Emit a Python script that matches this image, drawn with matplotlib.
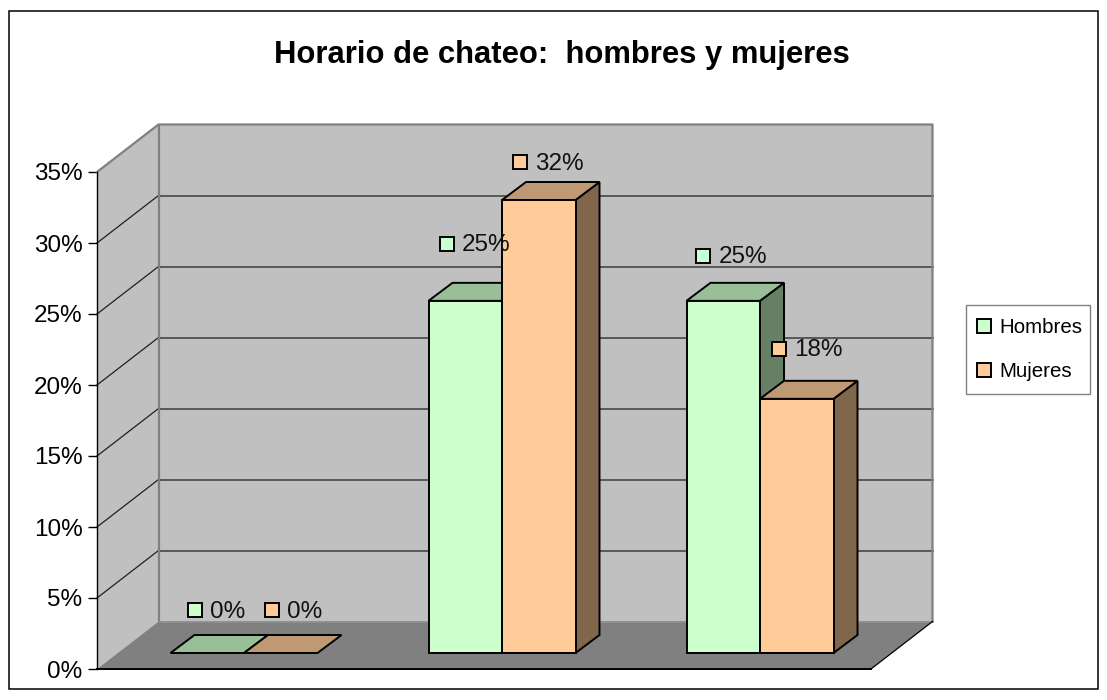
import matplotlib
matplotlib.use("Agg")
import matplotlib.pyplot as plt
from matplotlib.lines import Line2D
from matplotlib.patches import Polygon, Rectangle

plt.rcParams["font.family"] = ["Liberation Sans", "DejaVu Sans"]

TITLE = "Horario de chateo:  hombres y mujeres"
SERIES_NAMES = ["Hombres", "Mujeres"]
HOMBRES = [0.0, 24.8, 24.8]
MUJERES = [0.0, 31.9, 17.9]
YTICKS = [0, 5, 10, 15, 20, 25, 30, 35]

# front, top, side faces of each series
FACE_COLORS = [("#CCFFCC", "#99BF99", "#668066"), ("#FFCC99", "#BF9973", "#80664D")]
WALL = "#C0C0C0"
FLOOR = "#808080"

WIDTH, HEIGHT = 1107, 700
LEFT, RIGHT, BOTTOM, TOP = 97, 871, 669, 172
PX_X = (RIGHT - LEFT) / 3.0
PX_Y = (BOTTOM - TOP) / 35.0
BAR_WIDTH = 73.5 / PX_X
DEPTH_X, DEPTH_Y = 61.5 / PX_X, 47.5 / PX_Y
BAR_DX, BAR_DY = 24 / PX_X, 18 / PX_Y
LIFT_X, LIFT_Y = 18 / PX_X, 16 / PX_Y

# label marker position relative to the top of each bar's front face, in pixels
LABEL_OFFSETS = [
    [(-12, 43), (-18.5, 57), (-20, 45)],
    [(-8.5, 43), (-18.5, 38), (-17.5, 50)],
]


def poly(ax, points, color, edge="black", lw=1.4, zorder=3):
    ax.add_patch(Polygon(points, closed=True, facecolor=color, edgecolor=edge,
                         linewidth=lw, joinstyle="miter", clip_on=False, zorder=zorder))


def draw_walls(ax):
    x0, x1 = -0.5, 2.5
    poly(ax, [(x0, 0), (x0 + DEPTH_X, DEPTH_Y), (x0 + DEPTH_X, 35 + DEPTH_Y), (x0, 35)], WALL, "none", zorder=1)
    poly(ax, [(x0 + DEPTH_X, DEPTH_Y), (x1 + DEPTH_X, DEPTH_Y), (x1 + DEPTH_X, 35 + DEPTH_Y), (x0 + DEPTH_X, 35 + DEPTH_Y)],
         WALL, "none", zorder=1)
    poly(ax, [(x0, 0), (x1, 0), (x1 + DEPTH_X, DEPTH_Y), (x0 + DEPTH_X, DEPTH_Y)], FLOOR, "none", zorder=1)

    for tick in YTICKS[1:-1]:
        ax.plot([x0, x0 + DEPTH_X], [tick, tick + DEPTH_Y], color="#202020", lw=0.9, clip_on=False, zorder=1.5)
        ax.plot([x0 + DEPTH_X, x1 + DEPTH_X], [tick + DEPTH_Y, tick + DEPTH_Y], color="#505050", lw=1.3,
                clip_on=False, zorder=1.5)

    # wall outline
    ax.plot([x0, x0 + DEPTH_X, x1 + DEPTH_X, x1 + DEPTH_X],
            [35, 35 + DEPTH_Y, 35 + DEPTH_Y, DEPTH_Y], color="#808080", lw=1.6, clip_on=False, zorder=1.6)
    ax.plot([x0 + DEPTH_X, x0 + DEPTH_X], [DEPTH_Y, 35 + DEPTH_Y], color="#808080", lw=1.6, clip_on=False, zorder=1.6)
    ax.plot([x0 + DEPTH_X, x1 + DEPTH_X], [DEPTH_Y, DEPTH_Y], color="#909090", lw=1.2, clip_on=False, zorder=1.6)
    ax.plot([x1, x1 + DEPTH_X], [0, DEPTH_Y], color="black", lw=0.9, clip_on=False, zorder=1.6)
    ax.plot([x0, x1], [0, 0], color="black", lw=1.4, clip_on=False, zorder=1.7)


def draw_bar(ax, center, value, colors, zorder):
    front, top, side = colors
    x0 = center + LIFT_X - BAR_WIDTH
    x1 = x0 + BAR_WIDTH
    y0 = LIFT_Y
    y1 = LIFT_Y + value
    if value > 0:
        ax.bar(x0, value, width=BAR_WIDTH, bottom=y0, align="edge", color=front, edgecolor="black",
               linewidth=1.4, zorder=zorder + 0.2, clip_on=False)
        poly(ax, [(x1, y0), (x1 + BAR_DX, y0 + BAR_DY), (x1 + BAR_DX, y1 + BAR_DY), (x1, y1)], side, zorder=zorder)
    poly(ax, [(x0, y1), (x1, y1), (x1 + BAR_DX, y1 + BAR_DY), (x0 + BAR_DX, y1 + BAR_DY)], top, zorder=zorder + 0.1)
    return x0, y1


def main() -> int:
    fig = plt.figure(figsize=(WIDTH / 100, HEIGHT / 100), dpi=100, facecolor="white")
    fig.add_artist(Rectangle((8.5 / WIDTH, 1 - 689 / HEIGHT), 1089.5 / WIDTH, 678.5 / HEIGHT,
                             transform=fig.transFigure, facecolor="none", edgecolor="black", linewidth=1.1))

    ax = fig.add_axes([LEFT / WIDTH, 1 - BOTTOM / HEIGHT, (RIGHT - LEFT) / WIDTH, (BOTTOM - TOP) / HEIGHT])
    ax.patch.set_visible(False)
    ax.set_xlim(-0.5, 2.5)
    ax.set_ylim(0, 35)
    for name in ("top", "right", "bottom"):
        ax.spines[name].set_visible(False)
    ax.spines["left"].set_linewidth(1.0)
    ax.spines["left"].set_zorder(1.8)
    ax.set_xticks([])
    ax.set_yticks(YTICKS)
    ax.set_yticklabels(["{0}%".format(t) for t in YTICKS], fontsize=17.5, color="black")
    ax.tick_params(axis="y", length=6.5, width=1.0, pad=4)

    draw_walls(ax)

    for s, values in enumerate([HOMBRES, MUJERES]):
        for i, value in enumerate(values):
            x0, y1 = draw_bar(ax, i + s * BAR_WIDTH, value, FACE_COLORS[s], 3 + s)
            off_x, off_y = LABEL_OFFSETS[s][i]
            mx = x0 + BAR_WIDTH / 2 + off_x / PX_X
            my = y1 + off_y / PX_Y
            ax.plot([mx], [my], marker="s", ms=9.8, mfc=FACE_COLORS[s][0], mec="black", mew=1.4,
                    clip_on=False, zorder=6)
            ax.text(mx + 15 / PX_X, my - 1.5 / PX_Y, "{0:.0f}%".format(value), fontsize=17.5, color="#111111",
                    ha="left", va="center", zorder=7, clip_on=False)

    fig.text(561.5 / WIDTH, 1 - 55.5 / HEIGHT, TITLE, fontsize=22.3, fontweight="bold",
             ha="center", va="center", color="black")

    # legend box is drawn on its own because its padding is not even on all sides
    fig.add_artist(Rectangle((966 / WIDTH, 1 - 393.5 / HEIGHT), 124 / WIDTH, 88.5 / HEIGHT,
                             transform=fig.transFigure, facecolor="white", edgecolor="#808080", linewidth=1.0))
    handles = [Line2D([], [], linestyle="none", marker="s", ms=9.8, mfc=FACE_COLORS[k][0], mec="black", mew=1.4,
                      label=SERIES_NAMES[k]) for k in range(2)]
    fig.legend(handles=handles, loc="upper left", bbox_to_anchor=(966 / WIDTH, 1 - 305.5 / HEIGHT),
               bbox_transform=fig.transFigure, fontsize=14.8, frameon=False, borderaxespad=0,
               labelspacing=1.2, handletextpad=0.47, handlelength=0.52, borderpad=0.62)

    fig.savefig("out.png", dpi=100)
    plt.close(fig)
    return 0


if __name__ == "__main__":
    raise SystemExit(main())
